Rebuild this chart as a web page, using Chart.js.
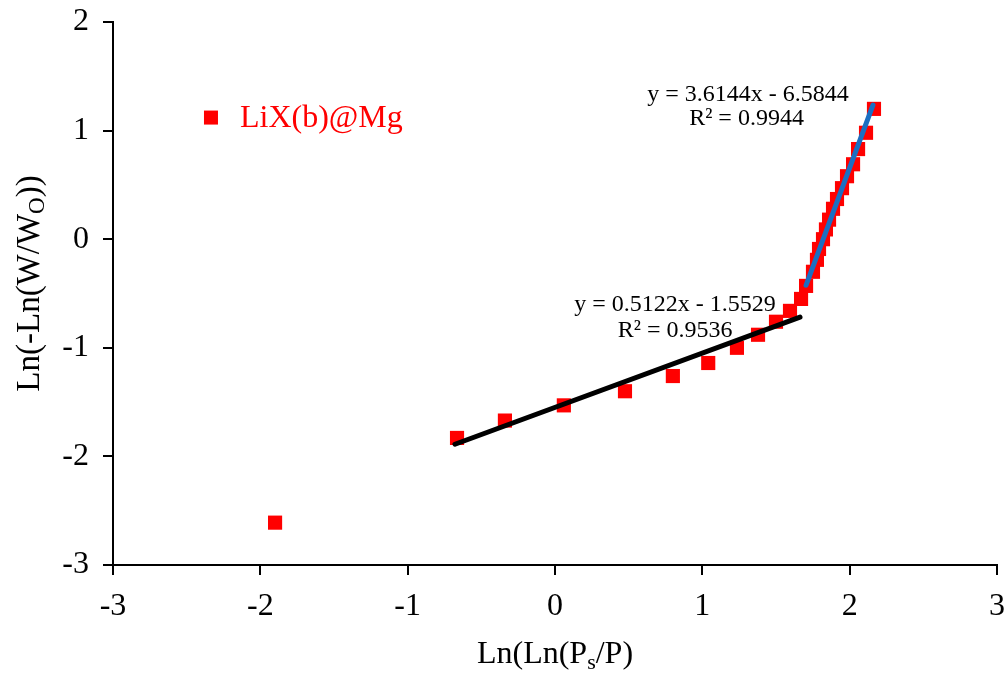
<!DOCTYPE html>
<html>
<head>
<meta charset="utf-8">
<script src="https://cdn.jsdelivr.net/npm/chart.js@4.4.1/dist/chart.umd.min.js"></script>
<style>
  html, body { margin: 0; padding: 0; background: #fff; }
  #wrap { width: 1008px; height: 678px; }
</style>
</head>
<body>
<div id="wrap"><canvas id="weibull"></canvas></div>
<script>
var xVals = [-1.90, -0.665, -0.34, 0.06, 0.475, 0.80, 1.04, 1.235, 1.378, 1.50, 1.595, 1.67,
             1.704, 1.751, 1.778, 1.792, 1.819, 1.839, 1.860, 1.887, 1.914, 1.948, 1.982,
             2.023, 2.057, 2.111, 2.165];
var yVals = [-2.61, -1.83, -1.67, -1.53, -1.40, -1.26, -1.14, -1.00, -0.88, -0.76, -0.66, -0.55,
             -0.43, -0.30, -0.19, -0.09, 0.0, 0.09, 0.18, 0.28, 0.37, 0.47, 0.58,
             0.69, 0.83, 0.98, 1.20];

// trendline end points
var fitLowX = [-0.679, 1.663];
var fitLowY = [-1.888, -0.718];
var fitHighX = [1.704, 2.158];
var fitHighY = [-0.424, 1.234];

var xTicks = [-3, -2, -1, 0, 1, 2, 3];
var yTicks = [-3, -2, -1, 0, 1, 2];

var seriesName = "LiX(b)@Mg";
var eqHigh = ["y = 3.6144x - 6.5844", "R\u00B2 = 0.9944"];
var eqLow = ["y = 0.5122x - 1.5529", "R\u00B2 = 0.9536"];

function toPts(xs, ys) {
  var out = [];
  for (var i = 0; i < xs.length; i++) out.push({ x: xs[i], y: ys[i] });
  return out;
}

var serif = "'Liberation Serif', 'Times New Roman', serif";

// draws legend, equations and axis titles (with subscripts)
var overlay = {
  id: "overlay",
  afterDraw: function (chart) {
    var c = chart.ctx;
    var xs = chart.scales.x, ys = chart.scales.y;
    var area = chart.chartArea;
    c.save();

    // legend
    var lx = xs.getPixelForValue(-2.335), ly = ys.getPixelForValue(1.12);
    c.fillStyle = "#ff0000";
    c.fillRect(lx - 7, ly - 7, 14, 14);
    c.font = "32px " + serif;
    c.textAlign = "left";
    c.textBaseline = "middle";
    c.fillText(seriesName, lx + 29, ly + 1);

    // equations
    c.fillStyle = "#000";
    c.font = "24px " + serif;
    c.textAlign = "center";
    c.fillText(eqHigh[0], xs.getPixelForValue(1.31), ys.getPixelForValue(1.335));
    c.fillText(eqHigh[1], xs.getPixelForValue(1.30), ys.getPixelForValue(1.11));
    c.fillText(eqLow[0], xs.getPixelForValue(0.815), ys.getPixelForValue(-0.60));
    c.fillText(eqLow[1], xs.getPixelForValue(0.815), ys.getPixelForValue(-0.84));

    // x title: Ln(Ln(Ps/P)
    var big = "32px " + serif, small = "22px " + serif;
    c.font = big;
    var a = "Ln(Ln(P", b = "s", d = "/P)";
    var wa = c.measureText(a).width, wd = c.measureText(d).width;
    c.font = small;
    var wb = c.measureText(b).width;
    var tx = (area.left + area.right) / 2 - (wa + wb + wd) / 2;
    var ty = 655;
    c.textAlign = "left";
    c.font = big;
    c.fillText(a, tx, ty);
    c.font = small;
    c.fillText(b, tx + wa, ty + 8);
    c.font = big;
    c.fillText(d, tx + wa + wb, ty);

    // y title: Ln(-Ln(W/WO))
    var bigY = "33px " + serif, smallY = "23px " + serif;
    c.translate(30, (area.top + area.bottom) / 2 - 10);
    c.rotate(-Math.PI / 2);
    var p = "Ln(-Ln(W/W", q = "O", r = "))";
    c.font = bigY;
    var wp = c.measureText(p).width, wr = c.measureText(r).width;
    c.font = smallY;
    var wq = c.measureText(q).width;
    var sx = -(wp + wq + wr) / 2;
    c.font = bigY;
    c.fillText(p, sx, 0);
    c.font = smallY;
    c.fillText(q, sx + wp, 8);
    c.font = bigY;
    c.fillText(r, sx + wp + wq, 0);

    c.restore();
  }
};

var ctx = document.getElementById("weibull");
var chart = new Chart(ctx, {
  type: "scatter",
  data: {
    datasets: [
      {
        label: seriesName,
        data: toPts(xVals, yVals),
        pointStyle: "rect",
        pointRadius: 10,
        pointHoverRadius: 10,
        backgroundColor: "#ff0000",
        borderColor: "#ff0000",
        borderWidth: 0,
        order: 2
      },
      {
        label: "fit low",
        type: "line",
        data: toPts(fitLowX, fitLowY),
        borderColor: "#000000",
        borderWidth: 5,
        borderCapStyle: "round",
        pointRadius: 0,
        fill: false,
        order: 1
      },
      {
        label: "fit high",
        type: "line",
        data: toPts(fitHighX, fitHighY),
        borderColor: "#1b6fc2",
        borderWidth: 5,
        borderCapStyle: "round",
        pointRadius: 0,
        fill: false,
        order: 1
      }
    ]
  },
  options: {
    responsive: true,
    maintainAspectRatio: false,
    animation: false,
    layout: { padding: { top: 22, right: 11, left: 0, bottom: 0 } },
    plugins: {
      legend: { display: false },
      tooltip: { enabled: false }
    },
    scales: {
      x: {
        type: "linear",
        min: -3,
        max: 3,
        afterBuildTicks: function (s) { s.ticks = xTicks.map(function (v) { return { value: v }; }); },
        afterFit: function (s) {
          s.height = 113;
          s.paddingLeft = 0;
          s.paddingRight = 0;
        },
        ticks: {
          color: "#000",
          font: { family: serif, size: 32 },
          padding: 12,
          maxRotation: 0
        },
        grid: {
          drawOnChartArea: false,
          drawTicks: true,
          tickLength: 10,
          color: "#000",
          lineWidth: 2
        },
        border: { display: true, color: "#000", width: 2 }
      },
      y: {
        type: "linear",
        min: -3,
        max: 2,
        afterBuildTicks: function (s) { s.ticks = yTicks.map(function (v) { return { value: v }; }); },
        afterFit: function (s) {
          s.width = 113;
          s.paddingTop = 0;
          s.paddingBottom = 0;
        },
        ticks: {
          color: "#000",
          font: { family: serif, size: 32 },
          padding: 14
        },
        grid: {
          drawOnChartArea: false,
          drawTicks: true,
          tickLength: 10,
          color: "#000",
          lineWidth: 2
        },
        border: { display: true, color: "#000", width: 2 }
      }
    }
  },
  plugins: [overlay]
});
</script>
</body>
</html>
